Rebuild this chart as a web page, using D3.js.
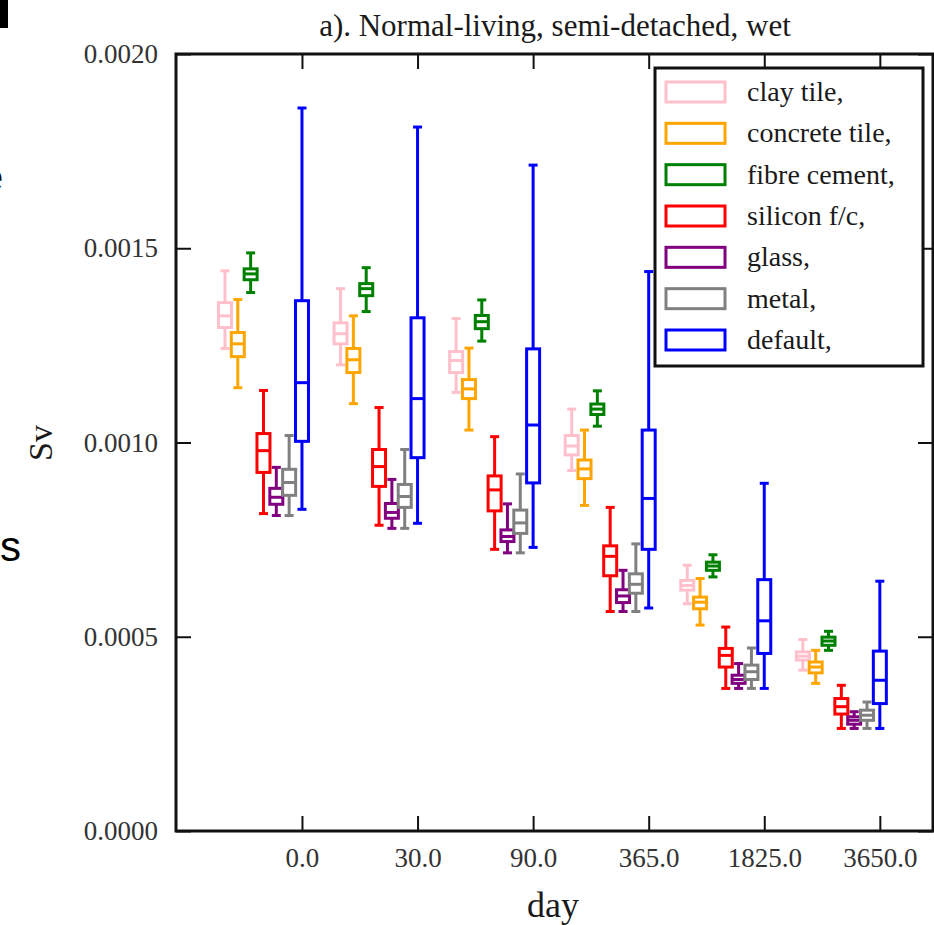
<!DOCTYPE html>
<html>
<head>
<meta charset="utf-8">
<script src="https://cdn.jsdelivr.net/npm/d3@7"></script>
<style>
    body { margin: 0; background: #fff; }
    text { font-family: "Liberation Serif", "Times New Roman", serif; }
</style>
</head>
<body>
<div id="chart"></div>
<script>
'use strict';

// x categories (days)
const days = ['0.0', '30.0', '90.0', '365.0', '1825.0', '3650.0'];

// legend labels and box colours
const materials = ['clay tile,', 'concrete tile,', 'fibre cement,', 'silicon f/c,', 'glass,', 'metal,', 'default,'];
const colors = ['pink', 'orange', 'green', 'red', 'purple', 'gray', 'blue'];

// box stats per day: [low whisker, q1, median, q3, high whisker]
const clayTile = [
    [0.001242, 0.001296, 0.001326, 0.001360, 0.001442],
    [0.001200, 0.001254, 0.001280, 0.001308, 0.001396],
    [0.001129, 0.001180, 0.001211, 0.001234, 0.001319],
    [0.000928, 0.000968, 0.000991, 0.001018, 0.001086],
    [0.000585, 0.000620, 0.000632, 0.000645, 0.000684],
    [0.000414, 0.000440, 0.000450, 0.000461, 0.000493]
];
const concreteTile = [
    [0.001141, 0.001221, 0.001254, 0.001283, 0.001368],
    [0.001100, 0.001180, 0.001213, 0.001242, 0.001326],
    [0.001032, 0.001113, 0.001138, 0.001162, 0.001243],
    [0.000838, 0.000907, 0.000932, 0.000955, 0.001032],
    [0.000530, 0.000572, 0.000589, 0.000602, 0.000650],
    [0.000380, 0.000407, 0.000422, 0.000435, 0.000465]
];
const fibreCement = [
    [0.001386, 0.001419, 0.001434, 0.001447, 0.001488],
    [0.001337, 0.001378, 0.001396, 0.001409, 0.001450],
    [0.001261, 0.001293, 0.001311, 0.001327, 0.001367],
    [0.001042, 0.001072, 0.001086, 0.001099, 0.001133],
    [0.000654, 0.000671, 0.000682, 0.000692, 0.000711],
    [0.000465, 0.000478, 0.000489, 0.000499, 0.000514]
];
const siliconFC = [
    [0.000817, 0.000923, 0.000979, 0.001023, 0.001134],
    [0.000787, 0.000887, 0.000938, 0.000982, 0.001090],
    [0.000725, 0.000824, 0.000878, 0.000914, 0.001015],
    [0.000565, 0.000657, 0.000707, 0.000734, 0.000833],
    [0.000367, 0.000422, 0.000452, 0.000470, 0.000525],
    [0.000264, 0.000301, 0.000320, 0.000341, 0.000375]
];
const glass = [
    [0.000812, 0.000841, 0.000859, 0.000882, 0.000936],
    [0.000779, 0.000805, 0.000820, 0.000843, 0.000905],
    [0.000716, 0.000745, 0.000758, 0.000775, 0.000842],
    [0.000565, 0.000588, 0.000605, 0.000621, 0.000671],
    [0.000367, 0.000380, 0.000390, 0.000401, 0.000431],
    [0.000264, 0.000275, 0.000285, 0.000294, 0.000307]
];
const metal = [
    [0.000812, 0.000864, 0.000897, 0.000931, 0.001018],
    [0.000779, 0.000833, 0.000861, 0.000892, 0.000982],
    [0.000716, 0.000766, 0.000793, 0.000826, 0.000919],
    [0.000565, 0.000612, 0.000635, 0.000662, 0.000739],
    [0.000367, 0.000390, 0.000410, 0.000427, 0.000471],
    [0.000264, 0.000285, 0.000298, 0.000311, 0.000332]
];
const defaultRoof = [
    [0.000828, 0.001003, 0.001154, 0.001365, 0.001861],
    [0.000792, 0.000961, 0.001113, 0.001321, 0.001812],
    [0.000730, 0.000896, 0.001045, 0.001241, 0.001714],
    [0.000574, 0.000725, 0.000856, 0.001032, 0.001440],
    [0.000367, 0.000457, 0.000541, 0.000647, 0.000895],
    [0.000264, 0.000328, 0.000388, 0.000463, 0.000643]
];

const yTicks = [0, 0.0005, 0.0010, 0.0015, 0.0020];

const series = [clayTile, concreteTile, fibreCement, siliconFC, glass, metal, defaultRoof];

// flatten into one row per box
const boxes = [];
series.forEach((s, m) => {
    s.forEach((st, d) => {
        boxes.push({ m: m, d: d, lo: st[0], q1: st[1], med: st[2], q3: st[3], hi: st[4] });
    });
});

// Config
const w = 934, h = 925;
const margin = { left: 176, right: 933, top: 54, bottom: 831 };

const svg = d3.select('#chart')
    .append('svg')
    .attr('width', w)
    .attr('height', h);

// scales
const xScale = d3.scaleLinear()
    .domain([-1.09, 5.46])
    .range([margin.left, margin.right]);

// offset of each material inside a group, default sits on the tick
const offScale = d3.scalePoint()
    .domain(d3.range(materials.length))
    .range([-77, 0]);

const yScale = d3.scaleLinear()
    .domain([0, 0.002])
    .range([margin.bottom, margin.top]);

const boxW = 13;
const capW = 9;

// Title
svg.append('text')
    .attr('x', 555)
    .attr('y', 36)
    .attr('text-anchor', 'middle')
    .style('font-size', '31px')
    .attr('fill', '#1a1a1a')
    .text('a). Normal-living, semi-detached, wet');

// Axes (ticks inward)
svg.append('g')
    .attr('transform', `translate(0,${margin.bottom})`)
    .call(d3.axisBottom(xScale)
        .tickValues(d3.range(days.length))
        .tickFormat(i => days[i])
        .tickSizeInner(-15)
        .tickSizeOuter(0)
        .tickPadding(17))
    .call(g => g.select('.domain').remove())
    .call(g => g.selectAll('line').attr('stroke', '#111').attr('stroke-width', 2))
    .call(g => g.selectAll('text')
        .style('font-size', '27px')
        .style('font-family', '"Liberation Serif", serif')
        .attr('fill', '#333'));

svg.append('g')
    .attr('transform', `translate(0,${margin.top})`)
    .call(d3.axisTop(xScale)
        .tickValues(d3.range(days.length))
        .tickFormat('')
        .tickSizeInner(-15)
        .tickSizeOuter(0))
    .call(g => g.select('.domain').remove())
    .call(g => g.selectAll('line').attr('stroke', '#111').attr('stroke-width', 2));

svg.append('g')
    .attr('transform', `translate(${margin.left},0)`)
    .call(d3.axisLeft(yScale)
        .tickValues(yTicks)
        .tickFormat(d3.format('.4f'))
        .tickSizeInner(-15)
        .tickSizeOuter(0)
        .tickPadding(18))
    .call(g => g.select('.domain').remove())
    .call(g => g.selectAll('line').attr('stroke', '#111').attr('stroke-width', 2))
    .call(g => g.selectAll('text')
        .style('font-size', '27px')
        .style('font-family', '"Liberation Serif", serif')
        .attr('fill', '#333'));

svg.append('g')
    .attr('transform', `translate(${margin.right},0)`)
    .call(d3.axisRight(yScale)
        .tickValues(yTicks)
        .tickFormat('')
        .tickSizeInner(-15)
        .tickSizeOuter(0))
    .call(g => g.select('.domain').remove())
    .call(g => g.selectAll('line').attr('stroke', '#111').attr('stroke-width', 2));

// Frame
svg.append('rect')
    .attr('x', margin.left)
    .attr('y', margin.top)
    .attr('width', margin.right - margin.left)
    .attr('height', margin.bottom - margin.top)
    .attr('fill', 'none')
    .attr('stroke', '#111')
    .attr('stroke-width', 3);

// Axis labels
svg.append('text')
    .attr('x', 553)
    .attr('y', 917)
    .attr('text-anchor', 'middle')
    .style('font-size', '36px')
    .attr('fill', '#1a1a1a')
    .text('day');

svg.append('text')
    .attr('transform', 'translate(52,443) rotate(-90)')
    .attr('text-anchor', 'middle')
    .style('font-size', '34px')
    .attr('fill', '#1a1a1a')
    .text('Sv');

// Boxes
const boxG = svg.append('g').attr('class', 'boxes');

const bg = boxG.selectAll('.boxG')
    .data(boxes)
    .join('g')
    .attr('class', 'boxG')
    .attr('transform', d => `translate(${xScale(d.d) + offScale(d.m)},0)`)
    .attr('stroke', d => colors[d.m])
    .attr('stroke-width', 3)
    .attr('fill', 'none');

// whiskers
bg.append('line')
    .attr('y1', d => yScale(d.hi))
    .attr('y2', d => yScale(d.q3));
bg.append('line')
    .attr('y1', d => yScale(d.q1))
    .attr('y2', d => yScale(d.lo));

// caps
bg.append('line')
    .attr('x1', -capW / 2).attr('x2', capW / 2)
    .attr('y1', d => yScale(d.hi)).attr('y2', d => yScale(d.hi));
bg.append('line')
    .attr('x1', -capW / 2).attr('x2', capW / 2)
    .attr('y1', d => yScale(d.lo)).attr('y2', d => yScale(d.lo));

// box
bg.append('rect')
    .attr('x', -boxW / 2)
    .attr('width', boxW)
    .attr('y', d => yScale(d.q3))
    .attr('height', d => yScale(d.q1) - yScale(d.q3))
    .attr('fill', 'white');

// median
bg.append('line')
    .attr('x1', -boxW / 2).attr('x2', boxW / 2)
    .attr('y1', d => yScale(d.med)).attr('y2', d => yScale(d.med));

// Legend
const legG = svg.append('g').attr('class', 'legend');
legG.append('rect')
    .attr('x', 655)
    .attr('y', 68)
    .attr('width', 268)
    .attr('height', 298)
    .attr('fill', 'white')
    .attr('stroke', '#111')
    .attr('stroke-width', 3);

const rowScale = d3.scalePoint()
    .domain(d3.range(materials.length))
    .range([92, 340]);

const leg = legG.selectAll('.legRow')
    .data(materials)
    .join('g')
    .attr('class', 'legRow')
    .attr('transform', (d, i) => `translate(0,${rowScale(i)})`);

leg.append('rect')
    .attr('x', 666)
    .attr('y', -10)
    .attr('width', 59)
    .attr('height', 20)
    .attr('fill', 'none')
    .attr('stroke', (d, i) => colors[i])
    .attr('stroke-width', 3);

leg.append('text')
    .attr('x', 747)
    .attr('y', 9)
    .style('font-size', '28px')
    .attr('fill', '#1a1a1a')
    .text(d => d);

// fragments of surrounding page text at the left edge
svg.append('rect')
    .attr('x', 0).attr('y', 0)
    .attr('width', 8).attr('height', 28)
    .attr('fill', '#000');
svg.append('text')
    .attr('x', -19).attr('y', 191)
    .style('font-family', '"Liberation Sans", Arial, sans-serif')
    .style('font-size', '40px')
    .text('e');
svg.append('text')
    .attr('x', 0).attr('y', 561)
    .style('font-family', '"Liberation Sans", Arial, sans-serif')
    .style('font-size', '42px')
    .text('s');
</script>
</body>
</html>
